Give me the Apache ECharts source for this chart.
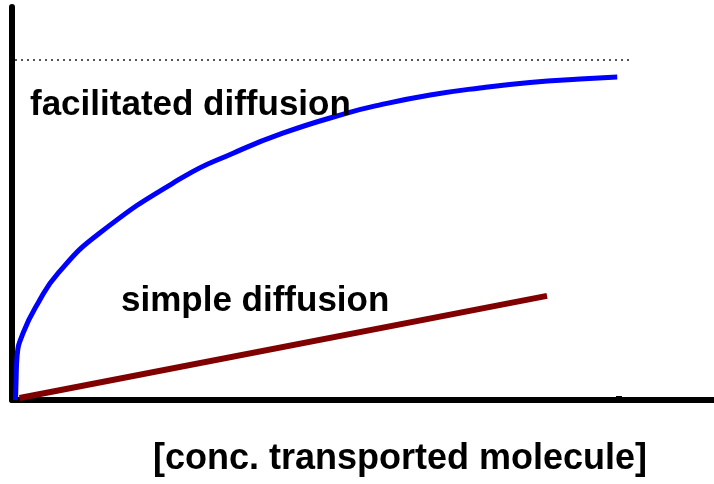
<!DOCTYPE html>
<html>
<head>
<meta charset="utf-8">
<script src="https://cdn.jsdelivr.net/npm/echarts@6/dist/echarts.min.js"></script>
<style>
  html, body { margin: 0; padding: 0; background: #fff; }
  #chart { width: 714px; height: 484px; }
</style>
</head>
<body>
<div id="chart"></div>
<script>
// data (x: concentration, y: transport rate, arbitrary units)
const facilitatedPts = [
    [0.7, 0], [0.8, 4.3], [1.0, 10.9], [2.2, 17.0], [5.2, 24.7], [9.2, 32.3],
    [17.5, 42.5], [34.1, 56.7], [44.1, 62.8], [54.0, 67.9],
    [66.8, 73.0], [73.4, 75.1], [83.4, 77.6], [93.3, 79.4], [103.3, 80.8],
    [113.3, 81.7], [120.7, 82.2]
];
const simplePts = [[1.5, 0.5], [106.7, 26.5]];
const vmaxPts = [[0.6, 86.5], [123.6, 86.5]];
const xTicks = [121];
const seriesNames = ['facilitated diffusion', 'simple diffusion'];
const xTitle = '[conc. transported molecule]';

document.addEventListener('DOMContentLoaded', function() {
    const chartDom = document.getElementById('chart');
    const myChart = echarts.init(chartDom);
    const font = '"Liberation Sans", Arial, sans-serif';

    const option = {
        backgroundColor: '#fff',
        animation: false,
        grid: { left: 12, right: 0, top: 7, bottom: 84 },
        xAxis: {
            type: 'value',
            min: 0,
            max: 140,
            axisLine: { lineStyle: { color: '#000', width: 6 } },
            axisTick: { show: true, inside: true, length: 4, customValues: xTicks, lineStyle: { color: '#000', width: 6 } },
            axisLabel: { show: false },
            splitLine: { show: false }
        },
        yAxis: {
            type: 'value',
            min: 0,
            max: 100,
            axisLine: { show: true, lineStyle: { color: '#000', width: 6 } },
            axisTick: { show: false },
            axisLabel: { show: false },
            splitLine: { show: false }
        },
        series: [
            {
                name: 'vmax',
                type: 'line',
                data: vmaxPts,
                symbol: 'none',
                lineStyle: { color: '#555', width: 2, type: [2, 4] }
            },
            {
                name: seriesNames[1],
                type: 'line',
                data: simplePts,
                symbol: 'none',
                lineStyle: { color: '#800000', width: 6 }
            },
            {
                name: seriesNames[0],
                type: 'line',
                data: facilitatedPts,
                symbol: 'none',
                smooth: 0.5,
                lineStyle: { color: '#0000ff', width: 5 }
            }
        ],
        graphic: [
            {
                type: 'text', left: 30, top: 88, z: 10,
                style: { text: seriesNames[0], fontFamily: font, fontWeight: 'bold', fontSize: 35, fill: '#000' }
            },
            {
                type: 'text', left: 121, top: 284, z: 10,
                style: { text: seriesNames[1], fontFamily: font, fontWeight: 'bold', fontSize: 35, fill: '#000' }
            },
            {
                type: 'text', left: 153, top: 441, z: 10,
                style: { text: xTitle, fontFamily: font, fontWeight: 'bold', fontSize: 36, fill: '#000' }
            }
        ]
    };
    myChart.setOption(option);

    window.addEventListener('resize', () => {
        myChart.resize();
    });
});
</script>
</body>
</html>
